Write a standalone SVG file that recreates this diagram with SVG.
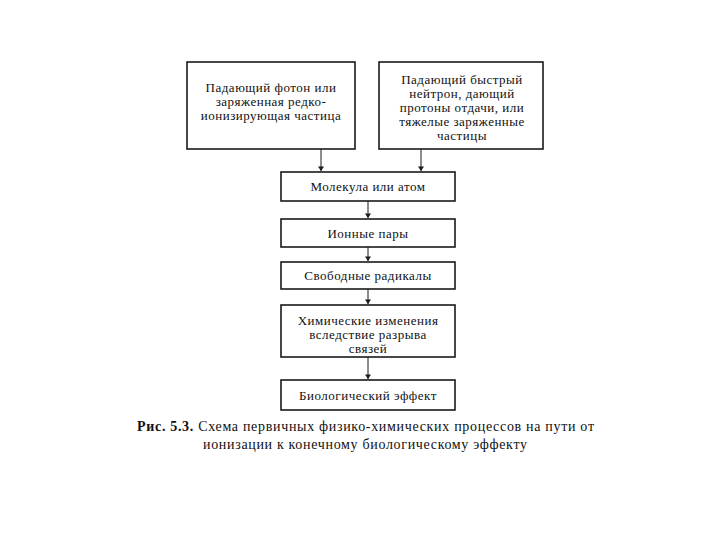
<svg xmlns="http://www.w3.org/2000/svg" width="720" height="540" viewBox="0 0 720 540">
<style>
.box{fill:#fff;stroke:#1a1a1a;stroke-width:1.6}
.t{font-family:"Liberation Serif","Times New Roman",serif;font-size:13px;letter-spacing:0.5px;fill:#111;text-anchor:middle}
.c{font-family:"Liberation Serif","Times New Roman",serif;font-size:14px;fill:#111}
.ln{stroke:#1a1a1a;stroke-width:1;fill:none}
</style>
<defs>
<marker id="ah" viewBox="0 0 6 8" refX="6" refY="4" markerWidth="5" markerHeight="6" orient="auto" markerUnits="userSpaceOnUse">
<path d="M0,0 L6,4 L0,8 z" fill="#1a1a1a"/>
</marker>
</defs>
<rect width="720" height="540" fill="#fff"/>
<g id="connectors">
<line class="ln" x1="321" y1="149" x2="321" y2="171" marker-end="url(#ah)"/>
<line class="ln" x1="421" y1="149" x2="421" y2="171" marker-end="url(#ah)"/>
<line class="ln" x1="368" y1="201" x2="368" y2="218" marker-end="url(#ah)"/>
<line class="ln" x1="368" y1="247" x2="368" y2="261" marker-end="url(#ah)"/>
<line class="ln" x1="368" y1="289" x2="368" y2="304" marker-end="url(#ah)"/>
<line class="ln" x1="368" y1="357" x2="368" y2="379" marker-end="url(#ah)"/>
</g>
<g id="n1">
<rect class="box" x="187" y="62" width="168" height="87"/>
<text class="t" x="271" y="92">Падающий фотон или</text>
<text class="t" x="271" y="106">заряженная редко-</text>
<text class="t" x="271" y="120">ионизирующая частица</text>
</g>
<g id="n2">
<rect class="box" x="379" y="62" width="164" height="87"/>
<text class="t" x="462" y="84">Падающий быстрый</text>
<text class="t" x="462" y="98">нейтрон, дающий</text>
<text class="t" x="462" y="112">протоны отдачи, или</text>
<text class="t" x="462" y="126">тяжелые заряженные</text>
<text class="t" x="462" y="140">частицы</text>
</g>
<g id="n3">
<rect class="box" x="281" y="172" width="174" height="29"/>
<text class="t" x="368" y="191">Молекула или атом</text>
</g>
<g id="n4">
<rect class="box" x="281" y="219" width="174" height="28"/>
<text class="t" x="368" y="238">Ионные пары</text>
</g>
<g id="n5">
<rect class="box" x="281" y="262" width="174" height="27"/>
<text class="t" x="368" y="280">Свободные радикалы</text>
</g>
<g id="n6">
<rect class="box" x="281" y="305" width="174" height="52"/>
<text class="t" x="368" y="325">Химические изменения</text>
<text class="t" x="368" y="339">вследствие разрыва</text>
<text class="t" x="368" y="353">связей</text>
</g>
<g id="n7">
<rect class="box" x="281" y="380" width="174" height="30"/>
<text class="t" x="368" y="400">Биологический эффект</text>
</g>
<g id="caption">
<text class="c" x="137" y="431" textLength="457" lengthAdjust="spacing"><tspan font-weight="bold">Рис. 5.3.</tspan> Схема первичных физико-химических процессов на пути от</text>
<text class="c" x="203" y="449" textLength="324" lengthAdjust="spacing">ионизации к конечному биологическому эффекту</text>
</g>
</svg>
